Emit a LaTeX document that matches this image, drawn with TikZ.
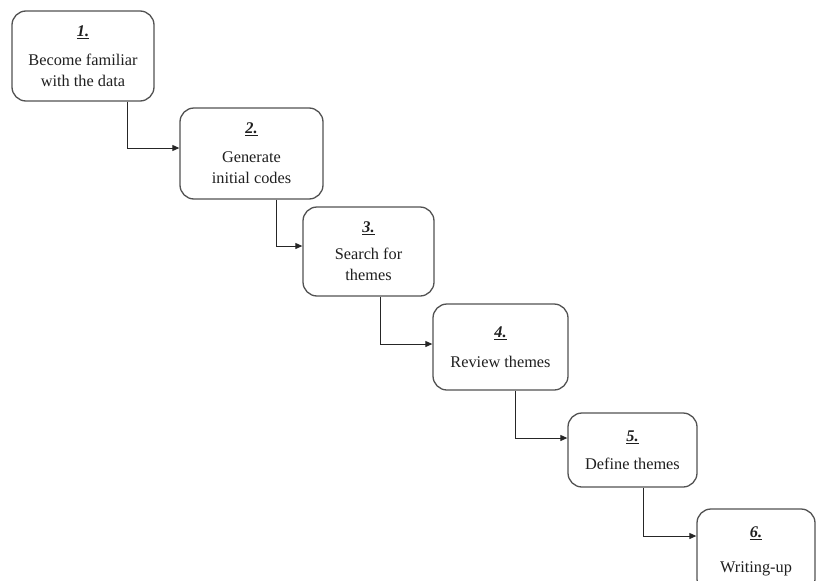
\documentclass[tikz,border=0pt]{standalone}
\usepackage{fontspec}
\setmainfont{Liberation Serif}
\usetikzlibrary{arrows.meta,calc}
\newcommand{\stepnum}[1]{\underline{\textbf{\textit{#1}}}}
\tikzset{
  stepbox/.style={draw=black!68, line width=1.3pt, rounded corners=14pt, fill=white,
    align=center, inner sep=0pt, text=black!88,
    font=\fontsize{16.3}{21}\selectfont},
  conn/.style={draw=black!85, line width=0.9pt, -{Triangle[length=7pt,width=6pt]}}
}
\begin{document}
\begin{tikzpicture}[x=1pt,y=-1pt]
\useasboundingbox (0,0) rectangle (817,581);
\node[stepbox, minimum width=142pt, minimum height=90pt] (b1) at (83,56)
  {\stepnum{1.}\\[8pt] Become familiar\\ with the data};
\node[stepbox, minimum width=143pt, minimum height=91pt] (b2) at (251.5,153.5)
  {\stepnum{2.}\\[8pt] Generate\\ initial codes};
\node[stepbox, minimum width=131pt, minimum height=89pt] (b3) at (368.5,251.5)
  {\stepnum{3.}\\[6pt] Search for\\ themes};
\node[stepbox, minimum width=135pt, minimum height=86pt] (b4) at (500.5,347)
  {\stepnum{4.}\\[9pt] Review themes};
\node[stepbox, minimum width=129pt, minimum height=74pt] (b5) at (632.5,450)
  {\stepnum{5.}\\[7pt] Define themes};
\node[stepbox, minimum width=118pt, minimum height=84pt] (b6) at (756,551)
  {\stepnum{6.}\\[14pt] Writing-up};
\coordinate (k1) at (127,148);
\coordinate (k2) at (276,246);
\coordinate (k3) at (380,344);
\coordinate (k4) at (515,438);
\coordinate (k5) at (643,536);
\draw[conn] (b1.south -| k1) -- (k1) -- (k1 -| b2.west);
\draw[conn] (b2.south -| k2) -- (k2) -- (k2 -| b3.west);
\draw[conn] (b3.south -| k3) -- (k3) -- (k3 -| b4.west);
\draw[conn] (b4.south -| k4) -- (k4) -- (k4 -| b5.west);
\draw[conn] (b5.south -| k5) -- (k5) -- (k5 -| b6.west);
\end{tikzpicture}
\end{document}
